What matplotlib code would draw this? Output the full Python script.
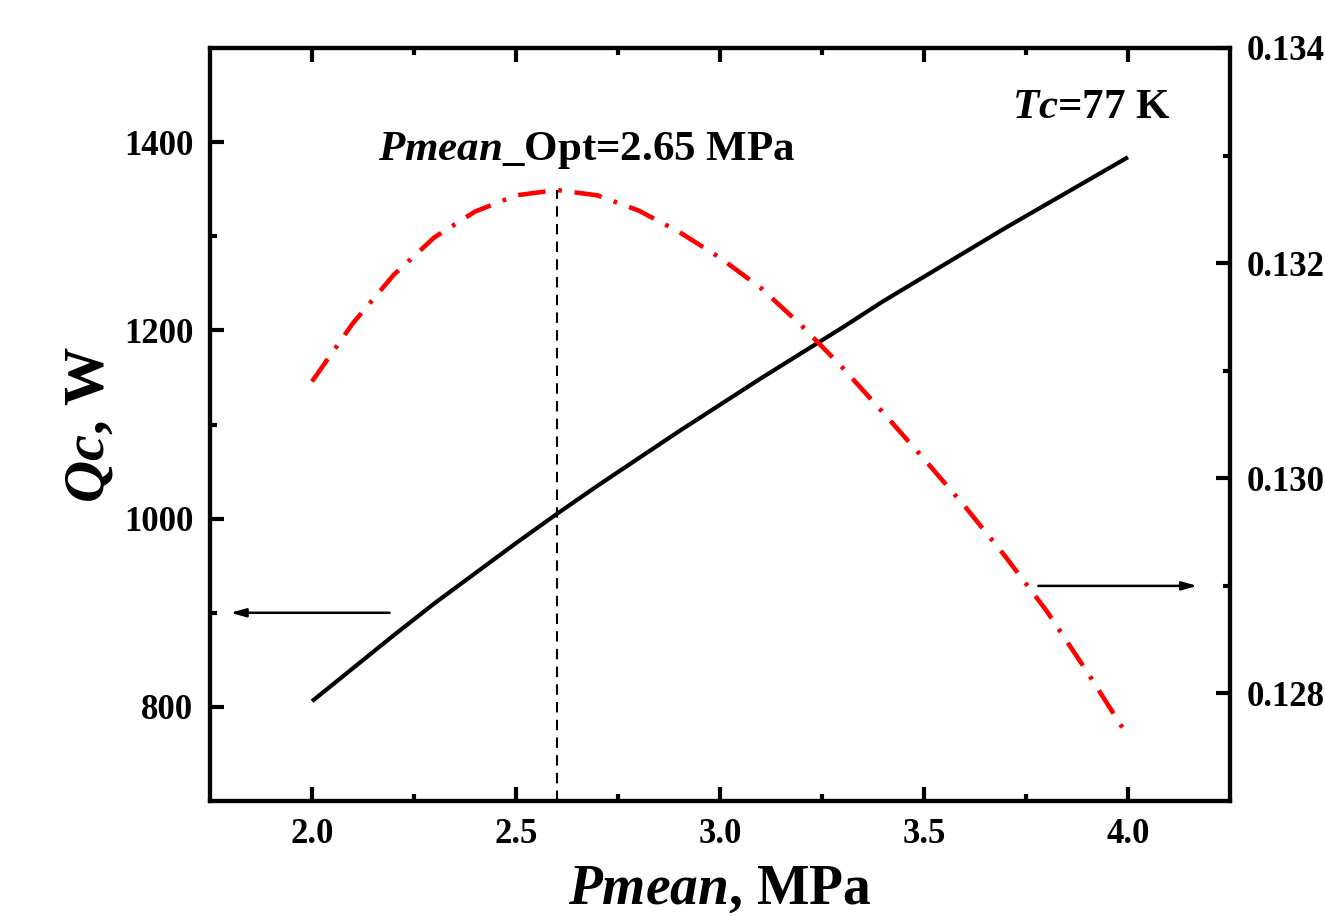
import matplotlib
matplotlib.use('Agg')
import matplotlib.pyplot as plt

# pressão média (MPa)
pmean = [2.0, 2.1, 2.2, 2.3, 2.4, 2.5, 2.6, 2.7, 2.8, 2.9, 3.0,
         3.1, 3.2, 3.3, 3.4, 3.5, 3.6, 3.7, 3.8, 3.9, 4.0]
# potência de refrigeração Qc (W)
qc = [806, 841, 876, 910, 942, 974, 1005, 1035, 1064, 1093, 1121,
      1149, 1176, 1203, 1231, 1257, 1283, 1309, 1334, 1359, 1384]
# eficiência (eixo direito)
eff = [0.13090, 0.13144, 0.13189, 0.13224, 0.13248, 0.13263, 0.13268,
       0.13263, 0.13249, 0.13229, 0.13205, 0.13177, 0.13142, 0.13103,
       0.13061, 0.13018, 0.12974, 0.12927, 0.12877, 0.12820, 0.12760]
p_opt = 2.6

plt.rcParams['font.family'] = 'Liberation Serif'
plt.rcParams['font.weight'] = 'bold'
plt.rcParams['mathtext.fontset'] = 'custom'
plt.rcParams['mathtext.it'] = 'Liberation Serif:italic:bold'
plt.rcParams['mathtext.rm'] = 'Liberation Serif:bold'
plt.rcParams['mathtext.bf'] = 'Liberation Serif:bold'

fig = plt.figure(figsize=(13.25, 9.16), dpi=100)
ax = fig.add_axes([0.1585, 0.1255, 0.7698, 0.8221])
ax2 = ax.twinx()

ax.plot(pmean, qc, color='black', lw=3, solid_capstyle='butt')
ax2.plot(pmean, eff, color='red', lw=3.3, dashes=(6, 2.8, 0.8, 2.8))
ax2.vlines(p_opt, 0.127, max(eff), colors='black', lw=1.5,
           linestyles=(0, (5, 3.5)))

ax.set_xlim(1.75, 4.25)
ax.set_ylim(700, 1500)
ax2.set_ylim(0.127, 0.134)

ax.set_xticks([2.0, 2.5, 3.0, 3.5, 4.0])
ax.set_xticks([2.25, 2.75, 3.25, 3.75], minor=True)
ax.set_yticks([800, 1000, 1200, 1400])
ax.set_yticks([900, 1100, 1300], minor=True)
ax2.set_yticks([0.128, 0.130, 0.132, 0.134])
ax2.set_yticks([0.129, 0.131, 0.133], minor=True)
ax2.set_yticklabels(['%.3f' % v for v in [0.128, 0.130, 0.132, 0.134]])

ax.tick_params(axis='x', which='both', direction='in', top=True, width=3, labelsize=25, pad=12)
ax.tick_params(axis='y', which='both', direction='in', right=False, width=3, labelsize=25, pad=12)
ax.tick_params(which='major', length=10)
ax.tick_params(which='minor', length=5)
ax2.tick_params(axis='y', which='both', direction='in', width=3, labelsize=25, pad=12)
ax2.tick_params(which='major', length=10)
ax2.tick_params(which='minor', length=5)

for a in (ax, ax2):
    for s in a.spines.values():
        s.set_linewidth(3)

ax.set_xlabel(r'$Pmean$, MPa', fontsize=40, fontweight='bold', labelpad=9)
ax.set_ylabel(r'$Qc$, W', fontsize=42, fontweight='bold', labelpad=6)

ax.text(2.162, 1391, r'$Pmean$_Opt=2.65 MPa', fontsize=31, va='center', ha='left')
ax.text(3.716, 1436, r'$Tc$=77 K', fontsize=31, va='center', ha='left')

# setas indicando o eixo de cada curva
ax.annotate('', xy=(1.80, 900), xytext=(2.19, 900),
            arrowprops=dict(arrowstyle='-|>,head_length=0.9,head_width=0.25',
                            color='black', lw=1.8, shrinkA=0, shrinkB=0))
ax2.annotate('', xy=(4.17, 0.129), xytext=(3.78, 0.129),
             arrowprops=dict(arrowstyle='-|>,head_length=0.9,head_width=0.25',
                             color='black', lw=1.8, shrinkA=0, shrinkB=0))

fig.savefig('out.png', dpi=100)
